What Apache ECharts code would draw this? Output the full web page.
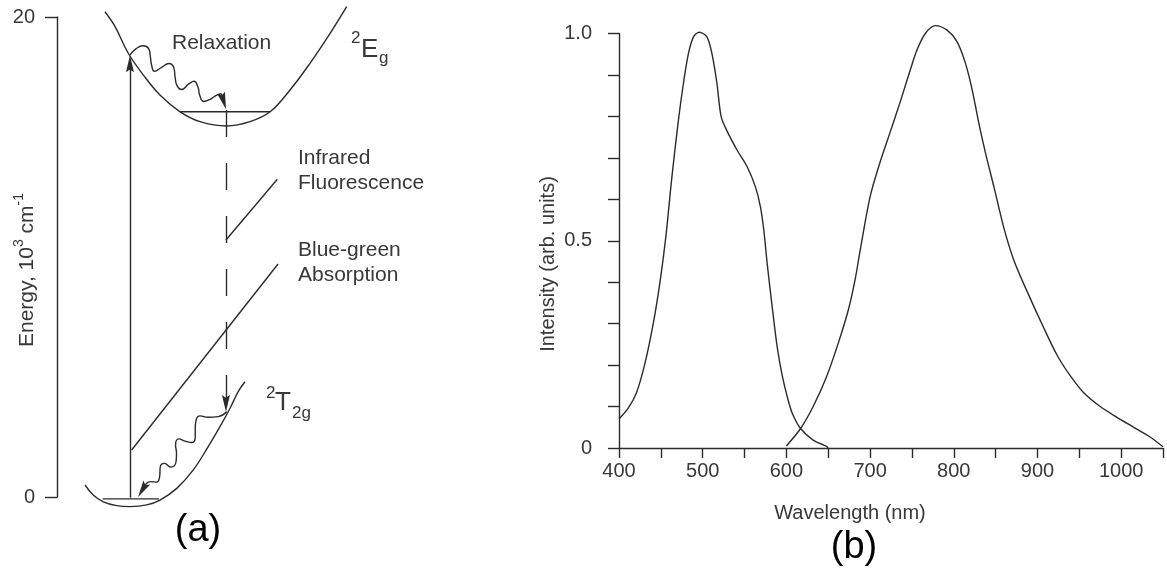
<!DOCTYPE html>
<html lang="en">
<head>
	<meta charset="utf-8">
	<title>Energy levels and spectra</title>
	<script src="https://cdn.jsdelivr.net/npm/echarts/dist/echarts.min.js"></script>
	<style>
		html, body { margin: 0; padding: 0; background: #fff; }
		#main { width: 1167px; height: 569px; }
	</style>
</head>
<body>
	<div id="main"></div>
	<script>
		// ---- (a) energy level diagram: x = configuration coordinate (arb.), y = energy (10^3 cm^-1)
		const energyTicks = [0, 20];
		const egCurve = [[2.00,20.22],[2.42,19.60],[2.97,18.49],[3.60,17.58],[4.29,16.75],[5.13,16.05],[5.96,15.64],
			[7.07,15.46],[8.04,15.64],[8.88,16.05],[9.71,16.96],[10.54,18.07],[11.38,19.32],[12.07,20.43]];
		const t2gCurve = [[1.17,0.50],[1.51,0.08],[1.93,-0.20],[2.49,-0.36],[3.04,-0.40],[3.74,-0.33],[4.29,-0.13],
			[4.99,0.36],[5.68,1.13],[6.30,2.10],[6.79,2.93],[7.21,3.70],[7.55,4.39],[7.83,4.80]];
		const egLevel = [[5.13,16.05],[8.88,16.05]];
		const t2gLevel = [[1.90,-0.08],[4.25,-0.08]];
		const pumpArrow = [[3.04,-0.08],[3.04,18.05]];
		const emitArrow = [[7.04,16.13],[7.04,3.90]];
		const irPointer = [[7.04,10.71],[9.18,13.24]];
		const bgPointer = [[3.11,1.96],[9.21,9.71]];
		const relaxTop = [[3.04,18.42],[3.30,18.68],[3.58,18.80],[3.82,18.68],[3.89,18.35],[3.94,18.00],[4.06,17.74],
			[4.36,17.90],[4.66,18.06],[4.87,17.88],[4.92,17.51],[5.00,17.14],[5.19,16.98],[5.48,17.20],[5.71,17.32],
			[5.87,17.09],[5.95,16.73],[6.11,16.48],[6.38,16.57],[6.65,16.74],[6.85,16.80]];
		const relaxTopHead = [[6.85,16.80],[6.94,16.50]];
		const relaxBottom = [[7.07,3.55],[6.72,3.35],[6.30,3.32],[5.96,3.38],[5.80,3.22],[5.76,2.86],[5.76,2.51],
			[5.62,2.27],[5.33,2.33],[5.08,2.42],[4.94,2.17],[4.98,1.82],[4.96,1.47],[4.74,1.25],[4.48,1.40],
			[4.30,1.24],[4.28,0.88],[4.15,0.62],[3.90,0.64],[3.71,0.55]];
		const relaxBottomHead = [[3.71,0.55],[3.56,0.30]];

		// ---- (b) spectra: wavelength (nm) vs intensity (arb. units)
		const absSpectrum = [[400,0.070],[411,0.096],[421,0.134],[431,0.204],[441,0.301],[449,0.401],[456,0.510],[463,0.650],
			[471,0.791],[477,0.880],[483,0.952],[489,0.992],[496,1.003],[505,0.992],[511,0.952],[517,0.880],
			[522,0.800],[529,0.765],[541,0.719],[553,0.679],[563,0.630],[569,0.582],[573,0.526],[577,0.446],
			[583,0.341],[589,0.244],[595,0.175],[601,0.124],[607,0.084],[617,0.047],[632,0.019],[648,0.004],[650,0.0]];
		const emSpectrum = [[600,0.005],[617,0.047],[632,0.100],[648,0.172],[662,0.253],[674,0.333],[682,0.405],
			[688,0.475],[700,0.606],[712,0.690],[724,0.762],[736,0.835],[748,0.912],[756,0.960],
			[766,1.000],[778,1.019],[792,1.008],[804,0.980],[814,0.928],[822,0.864],[830,0.783],[838,0.711],
			[848,0.630],[860,0.530],[872,0.452],[888,0.376],[907,0.292],[924,0.222],[940,0.172],[955,0.134],
			[975,0.100],[995,0.074],[1015,0.050],[1035,0.026],[1050,0.003]];
		const wlLabels = [400, 500, 600, 700, 800, 900, 1000];
		const intLabels = { 0: '0', 0.5: '0.5', 1: '1.0' };

		const ink = '#2b2b2b';
		const txt = '#383838';
		const font = 'Liberation Sans, Arial, sans-serif';
		const head = 'path://M5,0L10,18L5,15L0,18Z';

		let chart = echarts.init(document.getElementById('main'), null, { renderer: 'canvas' });

		function curve(data, smooth, ax) {
			return {
				type: 'line', xAxisIndex: ax, yAxisIndex: ax, data: data,
				smooth: smooth, showSymbol: false, symbol: 'none', clip: false, silent: true,
				lineStyle: { color: ink, width: 1.4 }
			};
		}
		function arrow(coords, dashed) {
			return {
				type: 'lines', coordinateSystem: 'cartesian2d', xAxisIndex: 0, yAxisIndex: 0, silent: true,
				symbol: ['none', head], symbolSize: [[8, 17], [8, 17]],
				lineStyle: { color: ink, width: 1.4, opacity: 1, type: dashed ? [27, 26] : 'solid' },
				data: [{ coords: coords }]
			};
		}
		function label(text, x, y, size, extra) {
			return Object.assign({
				type: 'text', x: x, y: y, silent: true,
				style: { text: text, fill: txt, font: size + 'px ' + font, align: 'left', verticalAlign: 'middle' }
			}, extra || {});
		}

		let option = {
			animation: false,
			backgroundColor: '#fff',
			grid: [
				{ left: 57, top: 17, width: 384, height: 480 },
				{ left: 619, top: 33.5, width: 544, height: 414.5 }
			],
			xAxis: [
				{ gridIndex: 0, type: 'value', min: 0, max: 16, show: false },
				{
					gridIndex: 1, type: 'value', min: 400, max: 1050, interval: 50,
					axisLine: { lineStyle: { color: ink, width: 1.4 } },
					axisTick: { length: 10, lineStyle: { color: ink, width: 1.4 } },
					axisLabel: {
						margin: 13, color: txt, fontSize: 20, fontFamily: font,
						formatter: v => wlLabels.indexOf(v) >= 0 ? String(v) : ''
					},
					splitLine: { show: false }
				}
			],
			yAxis: [
				{
					gridIndex: 0, type: 'value', min: energyTicks[0], max: energyTicks[1], interval: 20,
					axisLine: { show: true, lineStyle: { color: ink, width: 1.4 } },
					axisTick: { show: true, length: 12, lineStyle: { color: ink, width: 1.4 } },
					axisLabel: { margin: 22, color: txt, fontSize: 20, fontFamily: font },
					splitLine: { show: false }
				},
				{
					gridIndex: 1, type: 'value', min: 0, max: 1, interval: 0.1,
					axisLine: { show: true, lineStyle: { color: ink, width: 1.4 } },
					axisTick: { show: true, length: 11, lineStyle: { color: ink, width: 1.4 } },
					axisLabel: {
						margin: 27, color: txt, fontSize: 20, fontFamily: font,
						formatter: v => { let k = Math.round(v * 10) / 10; return intLabels[k] !== undefined ? intLabels[k] : ''; }
					},
					splitLine: { show: false }
				}
			],
			series: [
				curve(egCurve, 0.4, 0),
				curve(t2gCurve, 0.4, 0),
				curve(egLevel, false, 0),
				curve(t2gLevel, false, 0),
				curve(irPointer, false, 0),
				curve(bgPointer, false, 0),
				curve(relaxTop, 0.5, 0),
				curve(relaxBottom, 0.5, 0),
				arrow(pumpArrow, false),
				arrow(emitArrow, true),
				arrow(relaxTopHead, false),
				arrow(relaxBottomHead, false),
				curve(absSpectrum, 0.3, 1),
				curve(emSpectrum, 0.3, 1)
			],
			graphic: [
				label('Relaxation', 172, 43, 21),
				label('Infrared', 298, 158, 21),
				label('Fluorescence', 298, 183, 21),
				label('Blue-green', 298, 250, 21),
				label('Absorption', 298, 275, 21),
				label('2', 351, 38, 17),
				label('E', 361, 50, 26),
				label('g', 379, 58, 17),
				label('2', 266, 393, 17),
				label('T', 275, 403, 26),
				label('2g', 292, 413, 17),
				{
					type: 'text', x: 25, y: 270, rotation: Math.PI / 2, silent: true,
					style: {
						text: '{m|Energy, 10}{s|3}{m| cm}{s|-1}', align: 'center', verticalAlign: 'middle',
						fill: txt, font: '21px ' + font,
						rich: {
							m: { fontSize: 21, fontFamily: font, color: txt, lineHeight: 26, verticalAlign: 'bottom' },
							s: { fontSize: 14, fontFamily: font, color: txt, verticalAlign: 'top' }
						}
					}
				},
				{
					type: 'text', x: 548, y: 264, rotation: Math.PI / 2, silent: true,
					style: { text: 'Intensity (arb. units)', align: 'center', verticalAlign: 'middle', fill: txt, font: '20px ' + font }
				},
				{
					type: 'text', x: 850, y: 513, silent: true,
					style: { text: 'Wavelength (nm)', align: 'center', verticalAlign: 'middle', fill: txt, font: '20px ' + font }
				},
				{
					type: 'text', x: 198, y: 531, silent: true,
					style: { text: '(a)', align: 'center', verticalAlign: 'middle', fill: '#000', font: '38px ' + font }
				},
				{
					type: 'text', x: 854, y: 548, silent: true,
					style: { text: '(b)', align: 'center', verticalAlign: 'middle', fill: '#000', font: '38px ' + font }
				}
			]
		};

		if (option && typeof option === 'object') {
			chart.setOption(option);
		}
	</script>
</body>
</html>
